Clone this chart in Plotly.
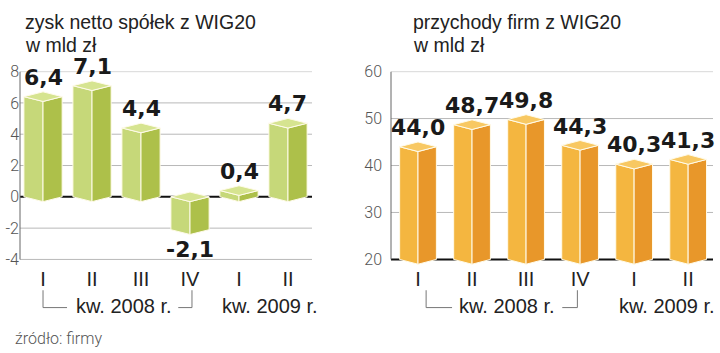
import plotly.graph_objects as go

# ---- data ----
quarters = ["I", "II", "III", "IV", "I", "II"]
profit = [6.4, 7.1, 4.4, -2.1, 0.4, 4.7]          # zysk netto, mld zł
revenue = [44.0, 48.7, 49.8, 44.3, 40.3, 41.3]    # przychody, mld zł
profit_ticks = [-4, -2, 0, 2, 4, 6, 8]
revenue_ticks = [20, 30, 40, 50, 60]
title_left = ["zysk netto spółek z WIG20", "w mld zł"]
title_right = ["przychody firm z WIG20", "w mld zł"]
year_labels = ["kw. 2008 r.", "kw. 2009 r."]
source = "źródło: firmy"

# ---- layout geometry (pixels) ----
W, H = 720, 353
y_top_px, y_bot_px = 65, 266
ydom = [(H - y_bot_px) / H, (H - y_top_px) / H]

FONT = "Liberation Sans"
TICK_FONT = "Roboto"
LABEL_FONT = "DejaVu Sans"

green = dict(left="#c6d879", right="#adc04a", top="#d6e490")
orange = dict(left="#f4b640", right="#e8972a", top="#f8c862")
edge = "#fffbea"

fig = go.Figure()


def add_bars(values, base, xref, yref, colors, half, depth):
    xs = list(range(len(values)))
    for c, v in zip(xs, values):
        lo, hi = min(base, v), max(base, v)
        left = ([c - half, c, c, c - half, c - half],
                [lo, lo - depth, hi - depth, hi, lo])
        right = ([c, c + half, c + half, c, c],
                 [lo - depth, lo, hi, hi - depth, lo - depth])
        top = ([c - half, c, c + half, c, c - half],
               [hi, hi - depth, hi, hi + depth, hi])
        for (px, py), col in ((left, colors["left"]), (right, colors["right"]),
                              (top, colors["top"])):
            fig.add_trace(go.Scatter(
                x=px, y=py, xaxis=xref, yaxis=yref, mode="lines",
                fill="toself", fillcolor=col,
                line=dict(color=edge, width=1), hoverinfo="skip",
                showlegend=False))
    # value labels
    for c, v in zip(xs, values):
        txt = f"{v:.1f}".replace(".", ",")
        if v >= base:
            y, anchor, shift = v + depth, "bottom", 1
        else:
            y, anchor, shift = v - depth, "top", -1
        fig.add_annotation(x=c, y=y, xref=xref, yref=yref, text=txt,
                           showarrow=False, yanchor=anchor, yshift=shift,
                           borderpad=0,
                           font=dict(family=LABEL_FONT, size=22,
                                     color="#1a1a1a", weight=700))


# left chart: 16.25 px per unit, bar spacing 49 px
add_bars(profit, 0, "x", "y", green, 0.39, 5 / 16.25)
# right chart: 4.875 px per unit, bar spacing 54 px
add_bars(revenue, 20, "x2", "y2", orange, 0.34, 5 / 4.875)

axis_common = dict(showline=False, ticks="", zeroline=False, fixedrange=True,
                   showgrid=False)
ytickfont = dict(family=TICK_FONT, size=16, color="#555", weight=300)
xtickfont = dict(family=FONT, size=20, color="#222")

fig.update_layout(
    width=W, height=H, margin=dict(l=0, r=0, t=0, b=0),
    paper_bgcolor="white", plot_bgcolor="white", showlegend=False,
    xaxis=dict(domain=[20 / W, 312 / W], range=[-0.47, 5.49],
               tickvals=list(range(6)), ticktext=quarters,
               tickfont=xtickfont, **axis_common),
    yaxis=dict(domain=ydom, range=[-4 - 6 / 16.25, 8], tickvals=profit_ticks,
               ticktext=[str(t) for t in profit_ticks],
               tickfont=ytickfont, **axis_common),
    xaxis2=dict(domain=[391 / W, 713 / W], range=[-0.5, 5.46], anchor="y2",
                tickvals=list(range(6)), ticktext=quarters,
                tickfont=xtickfont, **axis_common),
    yaxis2=dict(domain=ydom, range=[20 - 6 / 4.875, 60], anchor="x2",
                tickvals=revenue_ticks, ticktext=[str(t) for t in revenue_ticks],
                ticklabelstandoff=8, tickfont=ytickfont, **axis_common),
)

# gridlines, baselines (black) and vertical axis lines
for xr, yr, ticks, base in (("x", "y", profit_ticks, 0),
                            ("x2", "y2", revenue_ticks, 20)):
    for t in ticks:
        if t == base:
            continue
        fig.add_shape(type="line", xref=f"{xr} domain", yref=yr, x0=0, x1=1,
                      y0=t, y1=t, line=dict(color="#b8b8b8", width=1),
                      layer="below")
    fig.add_shape(type="line", xref=f"{xr} domain", yref=yr, x0=0, x1=1,
                  y0=base, y1=base, line=dict(color="#111", width=2),
                  layer="below")
    fig.add_shape(type="line", xref=f"{xr} domain", yref=yr, x0=0, x1=0,
                  y0=ticks[0], y1=ticks[-1], line=dict(color="#666", width=1),
                  layer="below")

# titles
for xpx, lines in ((24, title_left), (412, title_right)):
    for ypx, t in zip((13, 37), lines):
        fig.add_annotation(x=xpx / W, y=(H - ypx) / H, xref="paper", yref="paper",
                           text=t, showarrow=False, xanchor="left",
                           yanchor="middle", borderpad=0,
                           font=dict(family=FONT, size=19.5, color="#222"))

# year brackets and labels
y_hi, y_lo = (H - 292) / H, (H - 310) / H
bracket_color = "#777"
for xr, (a0, a1, b0, b1), (c08, c09) in (
        ("x", (0.0, 0.49, 2.76, 3.04), (1.65, 4.63)),
        ("x2", (0.15, 0.63, 2.67, 2.95), (1.65, 4.61))):
    fig.add_shape(type="path", xref=xr, yref="paper",
                  path=f"M {a0},{y_hi} L {a0},{y_lo} L {a1},{y_lo}",
                  line=dict(color=bracket_color, width=1))
    fig.add_shape(type="path", xref=xr, yref="paper",
                  path=f"M {b0},{y_lo} L {b1},{y_lo} L {b1},{y_hi}",
                  line=dict(color=bracket_color, width=1))
    for cx, t in ((c08, year_labels[0]), (c09, year_labels[1])):
        fig.add_annotation(x=cx, y=(H - 308) / H, xref=xr, yref="paper", text=t,
                           showarrow=False, yanchor="middle",
                           font=dict(family=FONT, size=20, color="#222"))

fig.add_annotation(x=13 / W, y=(H - 342) / H, xref="paper", yref="paper",
                   text=source, showarrow=False, xanchor="left", yanchor="middle",
                   font=dict(family=TICK_FONT, size=16, color="#555", weight=300))

fig.write_html("out.html")
